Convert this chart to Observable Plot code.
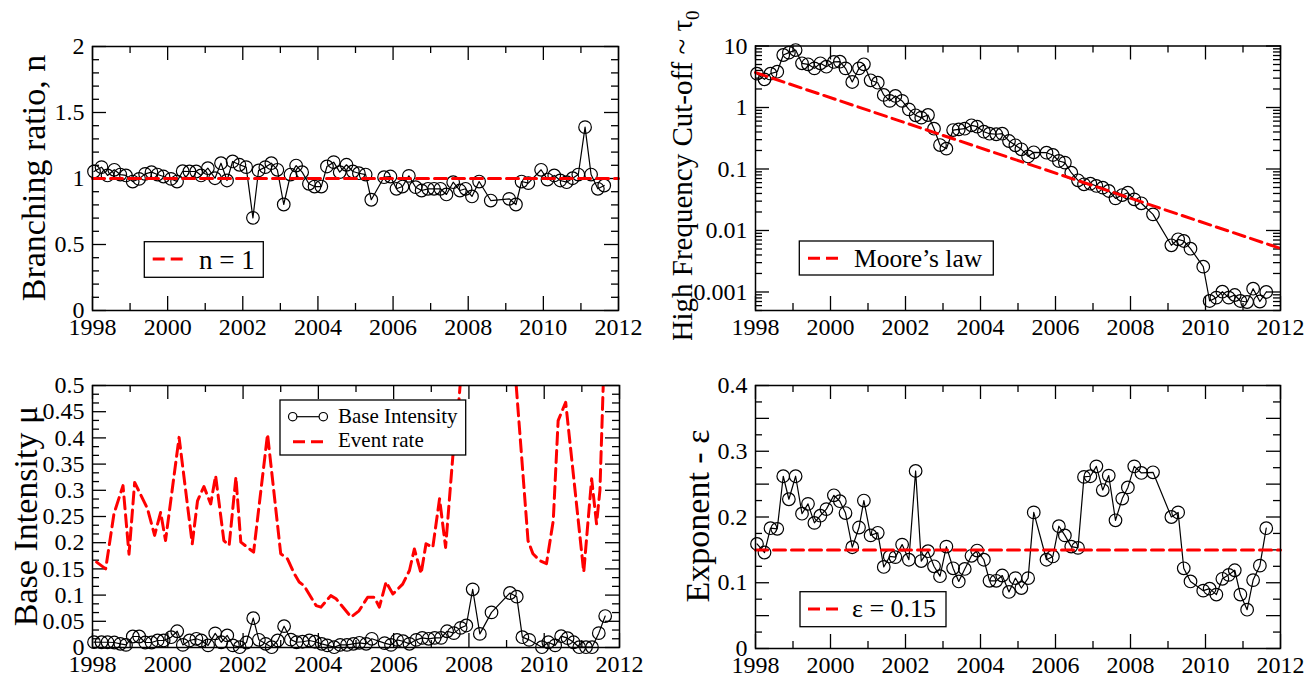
<!DOCTYPE html>
<html>
<head>
<meta charset="utf-8">
<script src="https://cdn.jsdelivr.net/npm/d3@7"></script>
<script src="https://cdn.jsdelivr.net/npm/@observablehq/plot@0.6"></script>
<style>
  html, body { margin: 0; padding: 0; background: white; }
  #chart { position: relative; width: 1316px; height: 677px; overflow: hidden; background: white; }
  #chart svg { position: absolute; }
</style>
</head>
<body>
<div id="chart"></div>
<script>
// ---------------- data ----------------
const years = [1998.04, 1998.24, 1998.40, 1998.58, 1998.74, 1998.89, 1999.07, 1999.24, 1999.40, 1999.57, 1999.73, 1999.89,
  2000.09, 2000.25, 2000.40, 2000.58, 2000.76, 2000.89, 2001.07, 2001.26, 2001.42, 2001.58, 2001.73, 2001.91,
  2002.09, 2002.27, 2002.42, 2002.60, 2002.76, 2002.92, 2003.09, 2003.27, 2003.42, 2003.58, 2003.76, 2003.91,
  2004.09, 2004.24, 2004.42, 2004.58, 2004.76, 2004.93, 2005.09, 2005.27, 2005.42,
  2005.76, 2005.93, 2006.09, 2006.25, 2006.42, 2006.60, 2006.76, 2006.93, 2007.09, 2007.26, 2007.42, 2007.60, 2007.78, 2007.93, 2008.10, 2008.29,
  2008.60,
  2009.09, 2009.27, 2009.42, 2009.60,
  2009.94, 2010.11, 2010.29, 2010.45, 2010.62, 2010.78, 2010.93, 2011.11, 2011.27, 2011.45, 2011.62];

const branching = [1.053, 1.086, 1.023, 1.066, 1.030, 1.023, 0.977, 0.997, 1.035, 1.048, 1.030, 1.015,
  0.997, 0.977, 1.055, 1.053, 1.053, 1.023, 1.078, 1.002, 1.116, 0.985, 1.129, 1.104,
  1.086, 0.702, 1.061, 1.086, 1.116, 1.066, 0.803, 1.030, 1.098, 1.048, 0.960, 0.939,
  0.939, 1.091, 1.124, 1.048, 1.104, 1.053, 1.040, 1.030, 0.839,
  1.010, 1.015, 0.922, 0.939, 1.020, 0.934, 0.909, 0.922, 0.922, 0.922, 0.879, 0.972, 0.909, 0.922, 0.864, 0.977,
  0.833,
  0.846, 0.803, 0.977, 0.965,
  1.066, 0.992, 1.023, 0.985, 0.972, 1.002, 1.030, 1.389, 1.030, 0.922, 0.947];

const cutoff = [3.55, 2.87, 3.55, 3.82, 7.14, 7.8, 8.6, 5.23, 5.04, 4.33, 5.23, 4.61,
  5.5, 5.56, 4.33, 2.6, 4.33, 5.04, 2.77, 2.53, 1.6, 1.28, 1.54, 1.28,
  0.933, 0.746, 0.684, 0.755, 0.452, 0.245, 0.214, 0.43, 0.44, 0.452, 0.513, 0.488,
  0.404, 0.375, 0.367, 0.375, 0.285, 0.243, 0.209, 0.16, 0.187,
  0.184, 0.169, 0.135, 0.127, 0.087, 0.0655, 0.0564, 0.0577, 0.053, 0.0497, 0.0439, 0.0333, 0.0377, 0.0411, 0.0321, 0.0277,
  0.0183,
  0.00574, 0.00719, 0.00675, 0.00506,
  0.00258, 0.000714, 0.000809, 0.00101, 0.000809, 0.000893, 0.000714, 0.000687, 0.00113, 0.0007, 0.001];

const baseIntensity = [0.0101, 0.010, 0.010, 0.0095, 0.007, 0.005, 0.021, 0.021, 0.0095, 0.0095, 0.0134, 0.0134,
  0.0197, 0.031, 0.005, 0.0134, 0.0166, 0.0134, 0.004, 0.027, 0.010, 0.023, 0.004, 0.0006,
  0.0095, 0.056, 0.0147, 0.007, 0.0006, 0.0134, 0.0407, 0.015, 0.010, 0.011, 0.0134, 0.011,
  0.007, 0.004, 0.0006, 0.005, 0.005, 0.007, 0.009, 0.007, 0.0166,
  0.0083, 0.005, 0.0146, 0.012, 0.007, 0.0146, 0.0184, 0.0166, 0.0184, 0.0184, 0.031, 0.0274, 0.0375, 0.042, 0.111, 0.026,
  0.067,
  0.104, 0.097, 0.0197, 0.0146,
  0.0006, 0.010, 0.004, 0.0216, 0.0178, 0.010, 0.0006, 0.0006, 0.0006, 0.0274, 0.060];

const exponent = [0.159, 0.146, 0.183, 0.182, 0.262, 0.227, 0.262, 0.205, 0.220, 0.191, 0.202, 0.212,
  0.233, 0.224, 0.206, 0.154, 0.184, 0.225, 0.172, 0.176, 0.124, 0.140, 0.139, 0.158,
  0.135, 0.270, 0.133, 0.148, 0.125, 0.110, 0.155, 0.122, 0.102, 0.121, 0.141, 0.149,
  0.135, 0.103, 0.103, 0.111, 0.086, 0.107, 0.092, 0.107, 0.207,
  0.135, 0.140, 0.186, 0.172, 0.155, 0.153, 0.261, 0.262, 0.277, 0.241, 0.263, 0.195, 0.228, 0.245, 0.277, 0.267,
  0.268,
  0.200, 0.207, 0.122, 0.102,
  0.088, 0.091, 0.082, 0.106, 0.112, 0.119, 0.082, 0.059, 0.104, 0.126, 0.183];

const rateYears = [1998.11, 1998.35, 1998.57, 1998.81, 1998.97, 1999.12, 1999.46, 1999.65, 1999.81, 1999.94,
  2000.30, 2000.65, 2000.79, 2000.96, 2001.14, 2001.27, 2001.49, 2001.63, 2001.81, 2001.94,
  2002.28, 2002.65, 2003.00, 2003.18, 2003.36, 2003.49, 2003.62, 2003.94, 2004.07, 2004.33,
  2004.47, 2004.87, 2005.08, 2005.31, 2005.49, 2005.62, 2005.80, 2005.98, 2006.24, 2006.42,
  2006.55, 2006.73, 2006.86, 2007.04, 2007.22, 2007.38, 2007.57, 2007.71, 2007.90, 2008.20,
  2008.70, 2009.15, 2009.57, 2009.70, 2009.88, 2010.06, 2010.24, 2010.37, 2010.57, 2011.05,
  2011.26, 2011.39, 2011.48, 2011.62];
const eventRate = [0.163, 0.150, 0.255, 0.309, 0.178, 0.315, 0.265, 0.214, 0.258, 0.204,
  0.401, 0.198, 0.280, 0.307, 0.274, 0.328, 0.204, 0.195, 0.325, 0.201,
  0.182, 0.407, 0.179, 0.169, 0.141, 0.125, 0.118, 0.080, 0.077, 0.099,
  0.093, 0.058, 0.070, 0.096, 0.096, 0.077, 0.125, 0.102, 0.121, 0.147,
  0.188, 0.141, 0.198, 0.191, 0.284, 0.191, 0.363, 0.450, 0.620, 0.800,
  0.900, 0.600, 0.204, 0.179, 0.166, 0.160, 0.242, 0.433, 0.468, 0.144,
  0.322, 0.236, 0.300, 0.620];

const refYears = [1998, 2012];
const branchingRef = [1, 1];
const exponentRef = [0.15, 0.15];
const mooreCutoff = [3.7, 0.0051];

const xTickLabels = [1998, 2000, 2002, 2004, 2006, 2008, 2010, 2012];
const xMinorTicks = [1999, 2001, 2003, 2005, 2007, 2009, 2011];
const branchingTicks = [0, 0.5, 1, 1.5, 2];
const cutoffTicks = [0.001, 0.01, 0.1, 1, 10];
const intensityTicks = [0, 0.05, 0.1, 0.15, 0.2, 0.25, 0.3, 0.35, 0.4, 0.45, 0.5];
const exponentTicks = [0, 0.1, 0.2, 0.3, 0.4];

// ---------------- tables ----------------
const rows = years.map((t, i) => ({t, n: branching[i], tau: cutoff[i], mu: baseIntensity[i], eps: exponent[i]}));
const rateRows = rateYears.map((t, i) => ({t, v: eventRate[i]}));
const refRows = refYears.map((t, i) => ({t, n: branchingRef[i], eps: exponentRef[i], tau: mooreCutoff[i]}));

// ---------------- helpers ----------------
const FONT = "'Liberation Serif', 'Times New Roman', Times, serif";
const RED = "#ff0000";
const fmt = d => String(d);
const tickStyle = {stroke: "black", strokeWidth: 1.3};

function frameTicks(W, H, yMajor, yMinor) {
  const L = 14, S = 7;
  return [
    Plot.tickX(xTickLabels, {x: d => d, insetTop: H - L, ...tickStyle}),
    Plot.tickX(xTickLabels, {x: d => d, insetBottom: H - L, ...tickStyle}),
    Plot.tickX(xMinorTicks, {x: d => d, insetTop: H - S, ...tickStyle}),
    Plot.tickX(xMinorTicks, {x: d => d, insetBottom: H - S, ...tickStyle}),
    Plot.tickY(yMajor, {y: d => d, insetRight: W - L, ...tickStyle}),
    Plot.tickY(yMajor, {y: d => d, insetLeft: W - L, ...tickStyle}),
    Plot.tickY(yMinor, {y: d => d, insetRight: W - S, ...tickStyle}),
    Plot.tickY(yMinor, {y: d => d, insetLeft: W - S, ...tickStyle})
  ];
}
function labels(yTicks) {
  return [
    Plot.axisX({ticks: xTickLabels, tickSize: 0, tickPadding: 7, fontSize: 24, fontFamily: FONT, tickFormat: fmt, label: null}),
    Plot.axisY({ticks: yTicks, tickSize: 0, tickPadding: 8, fontSize: 24, fontFamily: FONT, tickFormat: fmt, label: null})
  ];
}
function near(a, b) { return Math.abs(a - b) < 1e-9; }
function minorOf(step, lo, hi, majors) {
  return d3.range(Math.round((hi - lo) / step) + 1).map(k => lo + k * step).filter(v => !majors.some(m => near(m, v)));
}
const base = {style: {fontFamily: FONT, background: "white", color: "black", overflow: "visible"}};

const chart = document.getElementById("chart");
function place(svg, left, top) {
  svg.style.left = left + "px";
  svg.style.top = top + "px";
  chart.appendChild(svg);
  return d3.select(svg);
}
function yTitle(sel, x, y, size, text, sub) {
  const t = sel.append("text")
    .attr("transform", `translate(${x},${y}) rotate(-90)`)
    .attr("text-anchor", "middle")
    .attr("font-family", FONT)
    .attr("font-size", size)
    .attr("fill", "black")
    .text(text);
  if (sub) t.append("tspan").attr("dy", size * 0.25).attr("font-size", size * 0.65).text(sub);
}
function box(sel, x, y, w, h) {
  sel.append("rect").attr("x", x).attr("y", y).attr("width", w).attr("height", h)
    .attr("fill", "white").attr("stroke", "black").attr("stroke-width", 1.3);
}
function dashSample(sel, x1, x2, y) {
  sel.append("line").attr("x1", x1).attr("x2", x2).attr("y1", y).attr("y2", y)
    .attr("stroke", RED).attr("stroke-width", 3).attr("stroke-dasharray", "12,6");
}
function legendText(sel, x, y, size, text) {
  sel.append("text").attr("x", x).attr("y", y).attr("font-family", FONT)
    .attr("text-anchor", "start")
    .attr("font-size", size).attr("fill", "black").text(text);
}

// ---------------- panel A: branching ratio ----------------
{
  const W = 526, H = 264;
  const svg = Plot.plot({
    ...base, width: 658, height: 340,
    marginLeft: 92, marginRight: 40, marginTop: 46, marginBottom: 30,
    x: {domain: [1998, 2012]},
    y: {domain: [0, 2]},
    marks: [
      ...frameTicks(W, H, branchingTicks, minorOf(0.1, 0, 2, branchingTicks)),
      Plot.line(rows, {x: "t", y: "n", stroke: "black", strokeWidth: 1.2}),
      Plot.dot(rows, {x: "t", y: "n", r: 6.3, stroke: "black", strokeWidth: 1.2, fill: "none"}),
      Plot.line(refRows, {x: "t", y: "n", stroke: RED, strokeWidth: 3, strokeDasharray: "12,6"}),
      Plot.frame({stroke: "black", strokeWidth: 1.5}),
      ...labels(branchingTicks)
    ]
  });
  const s = place(svg, 0, 0);
  yTitle(s, 45, 178, 34, "Branching ratio, n");
  box(s, 144.3, 241.7, 119, 35.6);
  dashSample(s, 152.7, 182.7, 259);
  legendText(s, 199, 269.3, 27, "n = 1");
}

// ---------------- panel B: high frequency cut-off ----------------
{
  const W = 525, H = 264.5;
  const minor = [];
  for (const dec of [0.0001, 0.001, 0.01, 0.1, 1]) for (let k = 2; k <= 9; k++) {
    const v = k * dec;
    if (v >= 0.0005 && v <= 10) minor.push(v);
  }
  const svg = Plot.plot({
    ...base, width: 658, height: 340,
    marginLeft: 97, marginRight: 36, marginTop: 45.5, marginBottom: 30,
    x: {domain: [1998, 2012]},
    y: {type: "log", domain: [0.0005, 10]},
    marks: [
      ...frameTicks(W, H, cutoffTicks, minor),
      Plot.line(rows, {x: "t", y: "tau", stroke: "black", strokeWidth: 1.2}),
      Plot.dot(rows, {x: "t", y: "tau", r: 6.3, stroke: "black", strokeWidth: 1.2, fill: "none"}),
      Plot.line(refRows, {x: "t", y: "tau", stroke: RED, strokeWidth: 3, strokeDasharray: "12,6"}),
      Plot.frame({stroke: "black", strokeWidth: 1.5}),
      ...labels(cutoffTicks)
    ]
  });
  const s = place(svg, 658, 0);
  yTitle(s, 34, 176, 29, "High Frequency Cut-off ~ τ", "0");
  box(s, 141.3, 241, 194, 34);
  dashSample(s, 150, 180, 258.3);
  legendText(s, 196, 266.7, 25.5, "Moore’s law");
}

// ---------------- panel C: base intensity ----------------
{
  const W = 527, H = 262;
  const svg = Plot.plot({
    ...base, width: 658, height: 337,
    marginLeft: 92, marginRight: 39, marginTop: 45, marginBottom: 30,
    x: {domain: [1998, 2012]},
    y: {domain: [0, 0.5]},
    marks: [
      ...frameTicks(W, H, intensityTicks, minorOf(0.05 / 3, 0, 0.5, intensityTicks)),
      Plot.line(rateRows, {x: "t", y: "v", stroke: RED, strokeWidth: 3, strokeDasharray: "12,6", clip: true}),
      Plot.line(rows, {x: "t", y: "mu", stroke: "black", strokeWidth: 1.2}),
      Plot.dot(rows, {x: "t", y: "mu", r: 6.3, stroke: "black", strokeWidth: 1.2, fill: "none"}),
      Plot.frame({stroke: "black", strokeWidth: 1.5}),
      ...labels(intensityTicks)
    ]
  });
  const s = place(svg, 0, 340);
  yTitle(s, 37, 176, 34, "Base Intensity μ");
  box(s, 280, 60, 185.7, 55);
  s.append("line").attr("x1", 292.7).attr("x2", 323.3).attr("y1", 76.7).attr("y2", 76.7)
    .attr("stroke", "black").attr("stroke-width", 1.2);
  for (const cx of [292.7, 323.3]) s.append("circle").attr("cx", cx).attr("cy", 76.7).attr("r", 4.2)
    .attr("fill", "white").attr("stroke", "black").attr("stroke-width", 1.2);
  legendText(s, 338, 82.5, 21, "Base Intensity");
  dashSample(s, 293, 323, 101.7);
  legendText(s, 338, 107, 21, "Event rate");
}

// ---------------- panel D: exponent ----------------
{
  const W = 525, H = 263;
  const major = [0, 0.05, 0.1, 0.15, 0.2, 0.25, 0.3, 0.35, 0.4];
  const svg = Plot.plot({
    ...base, width: 658, height: 337,
    marginLeft: 97, marginRight: 36, marginTop: 45, marginBottom: 29,
    x: {domain: [1998, 2012]},
    y: {domain: [0, 0.4]},
    marks: [
      ...frameTicks(W, H, major, minorOf(0.025, 0, 0.4, major)),
      Plot.line(rows, {x: "t", y: "eps", stroke: "black", strokeWidth: 1.2}),
      Plot.dot(rows, {x: "t", y: "eps", r: 6.3, stroke: "black", strokeWidth: 1.2, fill: "none"}),
      Plot.line(refRows, {x: "t", y: "eps", stroke: RED, strokeWidth: 3, strokeDasharray: "12,6"}),
      Plot.frame({stroke: "black", strokeWidth: 1.5}),
      ...labels(exponentTicks)
    ]
  });
  const s = place(svg, 658, 340);
  yTitle(s, 51, 176, 34, "Exponent - ε");
  box(s, 142, 251.7, 146, 35);
  dashSample(s, 150, 180, 269);
  legendText(s, 194, 277, 26, "ε = 0.15");
}
</script>
</body>
</html>
